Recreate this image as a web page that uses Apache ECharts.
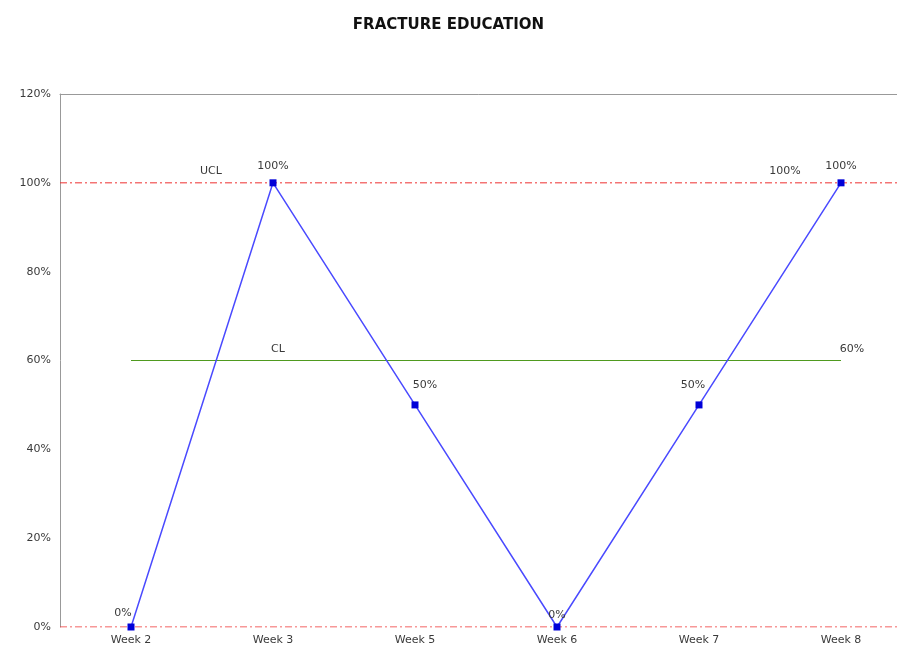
<!DOCTYPE html>
<html>
<head>
<meta charset="utf-8">
<script src="https://cdn.jsdelivr.net/npm/echarts@6/dist/echarts.min.js"></script>
<style>
  html, body { margin: 0; padding: 0; background: #fff; overflow: hidden; }
  #chart { width: 897px; height: 648px; }
</style>
</head>
<body>
<div id="chart"></div>
<script>
// Weekly compliance for fracture education, with control limits
const weeks = ['Week 2', 'Week 3', 'Week 5', 'Week 6', 'Week 7', 'Week 8'];
const percentValues = [0, 100, 50, 0, 50, 100];
const centerLine = [60, 60, 60, 60, 60, 60];
const upperLimit = [100, 100, 100, 100, 100, 100];
const lowerLimit = 0;
const yTicks = [0, 20, 40, 60, 80, 100, 120];

const FONT = 'DejaVu Sans, Verdana, sans-serif';
const TEXT = '#3a3a3a';
const LIMIT_RED = '#ee3030';
const dashDot = [7, 3, 2, 3];

// per-point label tweaks for the main series
const mainLabelPos = [
  { position: 'top', offset: [-8, 0] },
  { position: 'top', offset: [0, -3] },
  { position: 'top', offset: [10, -6] },
  { position: 'top', offset: [0, 2] },
  { position: 'top', offset: [-6, -6] },
  { position: 'top', offset: [0, -3] }
];

const hiddenPoint = { symbol: 'circle', symbolSize: 0.01, showSymbol: true };

// a limit line spanning the whole plot, drawn on a hidden 0..1 axis
function limitSeries(name, level) {
  return {
    name: name,
    type: 'line',
    xAxisIndex: 2,
    data: [[0, level], [1, level]],
    symbol: 'none',
    silent: true,
    lineStyle: { color: LIMIT_RED, width: 1, type: dashDot },
    z: 1
  };
}

const chart = echarts.init(document.getElementById('chart'));
chart.setOption({
  animation: false,
  title: {
    text: 'FRACTURE EDUCATION',
    left: 'center',
    top: 13,
    textStyle: { fontFamily: FONT, fontSize: 15, fontWeight: 'bold', color: '#111' }
  },
  // the plot runs past the right edge of the page, as in the source workbook
  grid: { left: 60, width: 852, top: 94, bottom: 21, containLabel: false, outerBoundsMode: 'none' },
  xAxis: [
    {
      type: 'category',
      data: weeks,
      boundaryGap: true,
      axisLine: { show: false },
      axisTick: { show: false },
      axisLabel: { color: TEXT, fontFamily: FONT, fontSize: 11, margin: 8 }
    },
    {
      type: 'category',
      data: weeks,
      position: 'top',
      axisLine: { show: true, lineStyle: { color: '#999', width: 1 } },
      axisTick: { show: false },
      axisLabel: { show: false }
    },
    {
      type: 'value',
      min: 0,
      max: 1,
      show: false
    }
  ],
  yAxis: {
    type: 'value',
    min: yTicks[0],
    max: yTicks[yTicks.length - 1],
    interval: 20,
    axisLine: { show: true, lineStyle: { color: '#999', width: 1 } },
    axisTick: { show: false },
    splitLine: { show: false },
    axisLabel: { color: TEXT, fontFamily: FONT, fontSize: 11, margin: 9, formatter: '{value}%' }
  },
  series: [
    limitSeries('UCL line', upperLimit[0]),
    limitSeries('LCL line', lowerLimit),
    Object.assign({
      name: 'UCL',
      type: 'line',
      data: upperLimit.map((v, i) => ({
        value: v,
        label: i === 1
          ? { show: true, formatter: 'UCL', offset: [-62, 0] }
          : i === weeks.length - 1
            ? { show: true, formatter: '100%', offset: [-56, 0] }
            : { show: false }
      })),
      lineStyle: { width: 0, opacity: 0 },
      itemStyle: { color: 'transparent' },
      label: { position: 'top', distance: 6, color: TEXT, fontFamily: FONT, fontSize: 11 },
      z: 1
    }, hiddenPoint),
    Object.assign({
      name: 'CL',
      type: 'line',
      data: centerLine.map((v, i) => ({
        value: v,
        label: i === 1
          ? { show: true, formatter: 'CL', offset: [5, 0] }
          : i === weeks.length - 1
            ? { show: true, formatter: '60%', offset: [11, 0] }
            : { show: false }
      })),
      lineStyle: { color: '#4f9a1f', width: 1 },
      itemStyle: { color: 'transparent' },
      label: { position: 'top', distance: 6, color: TEXT, fontFamily: FONT, fontSize: 11 },
      z: 2
    }, hiddenPoint),
    {
      name: 'Fracture education',
      type: 'line',
      data: percentValues.map((v, i) => ({ value: v, label: mainLabelPos[i] })),
      symbol: 'rect',
      symbolSize: 7,
      itemStyle: { color: '#0000d8' },
      lineStyle: { color: '#4a4aff', width: 1.5 },
      label: {
        show: true,
        distance: 5,
        color: TEXT,
        fontFamily: FONT,
        fontSize: 11,
        formatter: p => p.value + '%'
      },
      z: 3
    }
  ]
});
</script>
</body>
</html>
